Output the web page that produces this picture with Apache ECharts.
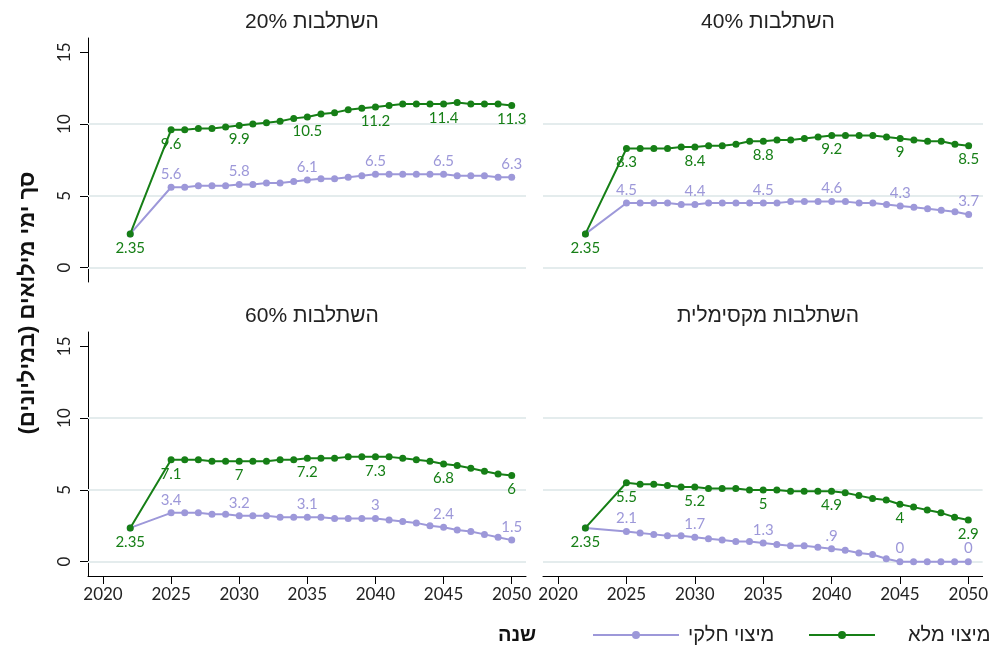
<!DOCTYPE html>
<html><head><meta charset="utf-8">
<script src="https://cdn.jsdelivr.net/npm/echarts@6/dist/echarts.min.js"></script>
<style>html,body{margin:0;padding:0;background:#fff}#c{width:991px;height:648px}</style>
</head><body><div id="c"></div><script>
const years = [2022, 2025, 2026, 2027, 2028, 2029, 2030, 2031, 2032, 2033, 2034, 2035, 2036, 2037, 2038, 2039, 2040, 2041, 2042, 2043, 2044, 2045, 2046, 2047, 2048, 2049, 2050];
const panelTitles = ['השתלבות 20%', 'השתלבות 40%', 'השתלבות 60%', 'השתלבות מקסימלית'];
const seriesNames = ['מיצוי מלא', 'מיצוי חלקי'];
const full20 = [2.35, 9.6, 9.6, 9.7, 9.7, 9.8, 9.9, 10.0, 10.1, 10.2, 10.4, 10.5, 10.7, 10.8, 11.0, 11.1, 11.2, 11.3, 11.4, 11.4, 11.4, 11.4, 11.5, 11.4, 11.4, 11.4, 11.3];
const part20 = [2.35, 5.6, 5.6, 5.7, 5.7, 5.7, 5.8, 5.8, 5.9, 5.9, 6.0, 6.1, 6.2, 6.2, 6.3, 6.4, 6.5, 6.5, 6.5, 6.5, 6.5, 6.5, 6.4, 6.4, 6.4, 6.3, 6.3];
const full40 = [2.35, 8.3, 8.3, 8.3, 8.3, 8.4, 8.4, 8.5, 8.5, 8.6, 8.8, 8.8, 8.9, 8.9, 9.0, 9.1, 9.2, 9.2, 9.2, 9.2, 9.1, 9.0, 8.9, 8.8, 8.8, 8.6, 8.5];
const part40 = [2.35, 4.5, 4.5, 4.5, 4.5, 4.4, 4.4, 4.5, 4.5, 4.5, 4.5, 4.5, 4.5, 4.6, 4.6, 4.6, 4.6, 4.6, 4.5, 4.5, 4.4, 4.3, 4.2, 4.1, 4.0, 3.9, 3.7];
const full60 = [2.35, 7.1, 7.1, 7.1, 7.0, 7.0, 7.0, 7.0, 7.0, 7.1, 7.1, 7.2, 7.2, 7.2, 7.3, 7.3, 7.3, 7.3, 7.2, 7.1, 7.0, 6.8, 6.7, 6.5, 6.3, 6.1, 6.0];
const part60 = [2.35, 3.4, 3.4, 3.4, 3.3, 3.3, 3.2, 3.2, 3.2, 3.1, 3.1, 3.1, 3.1, 3.0, 3.0, 3.0, 3.0, 2.9, 2.8, 2.7, 2.5, 2.4, 2.2, 2.1, 1.9, 1.7, 1.5];
const fullMax = [2.35, 5.5, 5.4, 5.4, 5.3, 5.2, 5.2, 5.1, 5.1, 5.1, 5.0, 5.0, 5.0, 4.9, 4.9, 4.9, 4.9, 4.8, 4.6, 4.4, 4.3, 4.0, 3.8, 3.6, 3.4, 3.1, 2.9];
const partMax = [2.35, 2.1, 2.0, 1.9, 1.8, 1.8, 1.7, 1.6, 1.5, 1.4, 1.4, 1.3, 1.2, 1.1, 1.1, 1.0, 0.9, 0.8, 0.6, 0.5, 0.2, 0, 0, 0, 0, 0, 0];
const fullSets = [full20, full40, full60, fullMax];
const partSets = [part20, part40, part60, partMax];
const labelYearsFull = [2022, 2025, 2030, 2035, 2040, 2045, 2050];
const labelYearsPart = [2025, 2030, 2035, 2040, 2045, 2050];
const xTicks = [2020, 2025, 2030, 2035, 2040, 2045, 2050];
const yTicks = [0, 5, 10, 15];
const gridLineValues = [0, 5, 10];
const yTitle = 'סך ימי מילואים (במיליונים)';
const xTitle = 'שנה';

const GREEN = '#167f16', LAV = '#9d98d9';
const FONT = 'Lato, "Noto Sans", "Open Sans", "DejaVu Sans", sans-serif';
const HFONT = '"Liberation Sans", Arial, sans-serif';
const rtl = s => '\u2067' + s + '\u2069';
const fmt = v => String(v).replace(/^0\./, '.');

const grids = [
  {left: 88, top: 38, width: 438, height: 244},
  {left: 543, top: 38, width: 440, height: 244},
  {left: 88, top: 332, width: 438, height: 244},
  {left: 543, top: 332, width: 440, height: 244}
];
const hasY = [true, false, true, false];
const hasX = [false, false, true, true];

const xAxes = grids.map((g, i) => ({
  type: 'value', gridIndex: i, min: 2018.9, max: 2051.05, show: hasX[i],
  axisLine: {show: true, onZero: false, lineStyle: {color: '#000', width: 1}},
  axisTick: {show: true, customValues: xTicks, length: 8, lineStyle: {color: '#000'}},
  axisLabel: {customValues: xTicks, fontSize: 17, color: '#222', margin: 10, fontFamily: FONT, formatter: v => String(v)},
  splitLine: {show: false}
}));
const yAxes = grids.map((g, i) => ({
  type: 'value', gridIndex: i, min: -1, max: 16,
  axisLine: {show: hasY[i], onZero: false, lineStyle: {color: '#000', width: 1}},
  axisTick: {show: hasY[i], customValues: yTicks, length: 8, lineStyle: {color: '#000'}},
  axisLabel: {show: hasY[i], customValues: yTicks, rotate: 90, fontSize: 17, color: '#222', margin: 15, fontFamily: FONT, formatter: v => String(v)},
  splitLine: {show: false}
}));

const series = [];
grids.forEach((g, i) => {
  series.push({
    name: seriesNames[1], type: 'line', xAxisIndex: i, yAxisIndex: i, z: 3,
    symbol: 'circle', symbolSize: 7, color: LAV,
    lineStyle: {width: 2, color: LAV}, itemStyle: {color: LAV},
    label: {show: false, position: 'top', distance: 2, color: LAV, fontSize: 15, fontFamily: FONT, formatter: p => fmt(p.value[1])},
    data: years.map((y, k) => ({value: [y, partSets[i][k]], label: {show: labelYearsPart.includes(y)}})),
    markLine: {silent: true, z: 1, symbol: ['none', 'none'], animation: false,
      lineStyle: {color: '#e4eced', width: 2, type: 'solid'}, label: {show: false},
      emphasis: {disabled: true},
      data: gridLineValues.map(v => ({yAxis: v}))}
  });
  series.push({
    name: seriesNames[0], type: 'line', xAxisIndex: i, yAxisIndex: i, z: 4,
    symbol: 'circle', symbolSize: 7, color: GREEN,
    lineStyle: {width: 2, color: GREEN}, itemStyle: {color: GREEN},
    label: {show: false, position: 'bottom', distance: 3, color: GREEN, fontSize: 15, fontFamily: FONT, formatter: p => fmt(p.value[1])},
    data: years.map((y, k) => ({value: [y, fullSets[i][k]], label: {show: labelYearsFull.includes(y)}}))
  });
});

const titles = grids.map((g, i) => ({
  text: rtl(panelTitles[i]), left: g.left + g.width / 2, textAlign: 'center', top: g.top - 31,
  textStyle: {fontSize: 21, fontWeight: 'normal', color: '#222', fontFamily: HFONT}
}));

const chart = echarts.init(document.getElementById('c'));
chart.setOption({
  animation: false,
  textStyle: {fontFamily: FONT},
  title: titles,
  grid: grids,
  xAxis: xAxes,
  yAxis: yAxes,
  legend: [
    {data: [seriesNames[0]], left: 808, top: 625, padding: 0, itemWidth: 66, itemHeight: 10, itemGap: 0,
      textStyle: {fontSize: 20, color: '#222', fontFamily: HFONT, padding: [0, 0, 0, 28]}},
    {data: [seriesNames[1]], left: 592, top: 625, padding: 0, itemWidth: 86, itemHeight: 10, itemGap: 0,
      textStyle: {fontSize: 20, color: '#222', fontFamily: HFONT, padding: [0, 0, 0, 4]}}
  ],
  graphic: [
    {type: 'text', x: 28, y: 303, rotation: Math.PI / 2,
      style: {text: rtl(yTitle), fontSize: 22, fontWeight: 'bold', fill: '#111', fontFamily: HFONT, align: 'center', verticalAlign: 'middle', textAlign: 'center', textVerticalAlign: 'middle'}},
    {type: 'text', x: 517, y: 635,
      style: {text: xTitle, fontSize: 20, fontWeight: 'bold', fill: '#111', fontFamily: HFONT, align: 'center', verticalAlign: 'middle', textAlign: 'center', textVerticalAlign: 'middle'}}
  ],
  series: series
});
</script></body></html>
